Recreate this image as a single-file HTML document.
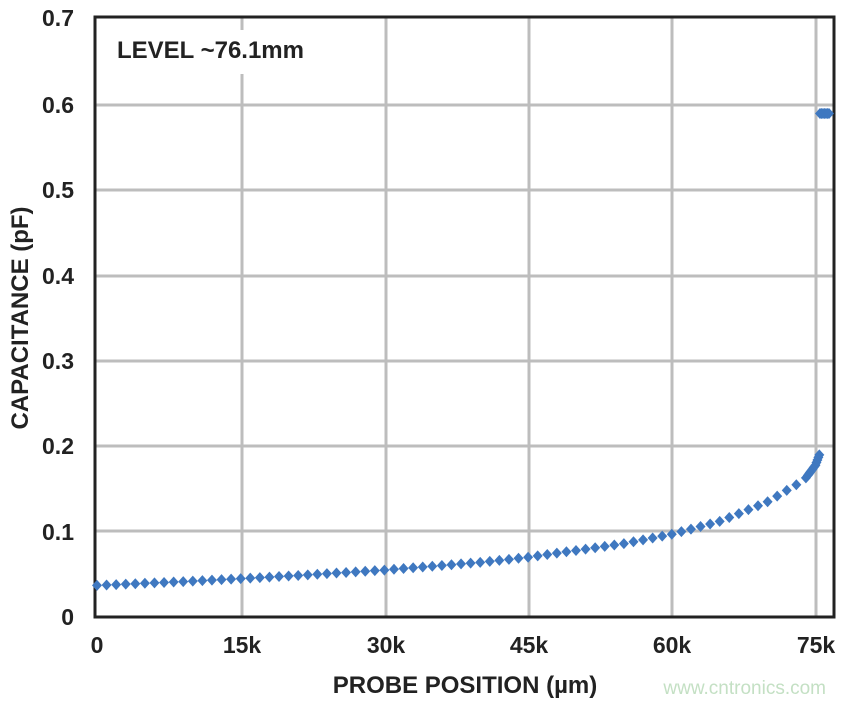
<!DOCTYPE html>
<html><head><meta charset="utf-8"><style>
html,body{margin:0;padding:0;background:#fff;}
svg{display:block;font-family:"Liberation Sans",Arial,sans-serif;}
</style></head><body>
<svg id="s" width="846" height="702" viewBox="0 0 846 702" xmlns="http://www.w3.org/2000/svg">
<rect width="846" height="702" fill="#fff"/>
<g stroke="#bdbdbd" stroke-width="3">
<line x1="95" y1="105" x2="834" y2="105"/>
<line x1="95" y1="190" x2="834" y2="190"/>
<line x1="95" y1="276" x2="834" y2="276"/>
<line x1="95" y1="361" x2="834" y2="361"/>
<line x1="95" y1="446" x2="834" y2="446"/>
<line x1="95" y1="531" x2="834" y2="531"/>
<line x1="242" y1="18" x2="242" y2="30"/><line x1="242" y1="74" x2="242" y2="617"/>
<line x1="386" y1="18" x2="386" y2="617"/>
<line x1="529" y1="18" x2="529" y2="617"/>
<line x1="672" y1="18" x2="672" y2="617"/>
<line x1="816" y1="18" x2="816" y2="617"/>
</g>
<rect x="95" y="17" width="739" height="600" fill="none" stroke="#222" stroke-width="3"/>
<text x="117" y="58" font-size="24" font-weight="bold" fill="#222">LEVEL ~76.1mm</text>
<g font-size="23" font-weight="bold" fill="#222" text-anchor="end">
<text x="74" y="26">0.7</text><text x="74" y="113">0.6</text><text x="74" y="198">0.5</text>
<text x="74" y="284">0.4</text><text x="74" y="369">0.3</text><text x="74" y="454">0.2</text>
<text x="74" y="540">0.1</text><text x="74" y="625">0</text>
</g>
<g font-size="23" font-weight="bold" fill="#222" text-anchor="middle">
<text x="97" y="653">0</text><text x="242" y="653">15k</text><text x="386" y="653">30k</text>
<text x="529" y="653">45k</text><text x="672" y="653">60k</text><text x="816" y="653">75k</text>
</g>
<text x="465" y="693" font-size="24" font-weight="bold" fill="#222" text-anchor="middle">PROBE POSITION (µm)</text>
<text transform="translate(28,318) rotate(-90)" font-size="24" font-weight="bold" fill="#222" text-anchor="middle">CAPACITANCE (pF)</text>
<text x="826" y="694" font-size="19" fill="#c4e0c4" text-anchor="end">www.cntronics.com</text>
<g id="pts" fill="#3f78c0"></g>
</svg>
<script>
var pts=[[0,.037],[10,.042],[20,.048],[30,.055],[40,.064],[45,.070],[50,.078],[55,.086],[60,.097],[65,.112],[70,.135],[73,.155],[74,.163],[75,.178],[75.4,.19]];
function f(x){for(var i=0;i<pts.length-1;i++){if(x<=pts[i+1][0]){var a=pts[i],b=pts[i+1];return a[1]+(b[1]-a[1])*(x-a[0])/(b[0]-a[0]);}}return pts[pts.length-1][1];}
var g=document.getElementById('pts'),h='';
function d(px,py){h+='<polygon points="'+(px-5)+','+py+' '+px+','+(py-5.5)+' '+(px+5)+','+py+' '+px+','+(py+5.5)+'"/>';}
function X(k){return 97+k*9.58;}function Y(v){return 617-v*853.3;}
for(var k=0;k<=74;k++)d(X(k),Y(f(k)));
for(var k=74.2;k<=75.4;k+=0.1)d(X(k),Y(f(k)));
for(var px=820;px<=829;px+=1.5)d(px,Y(0.59));
g.innerHTML=h;
</script>
</body></html>
